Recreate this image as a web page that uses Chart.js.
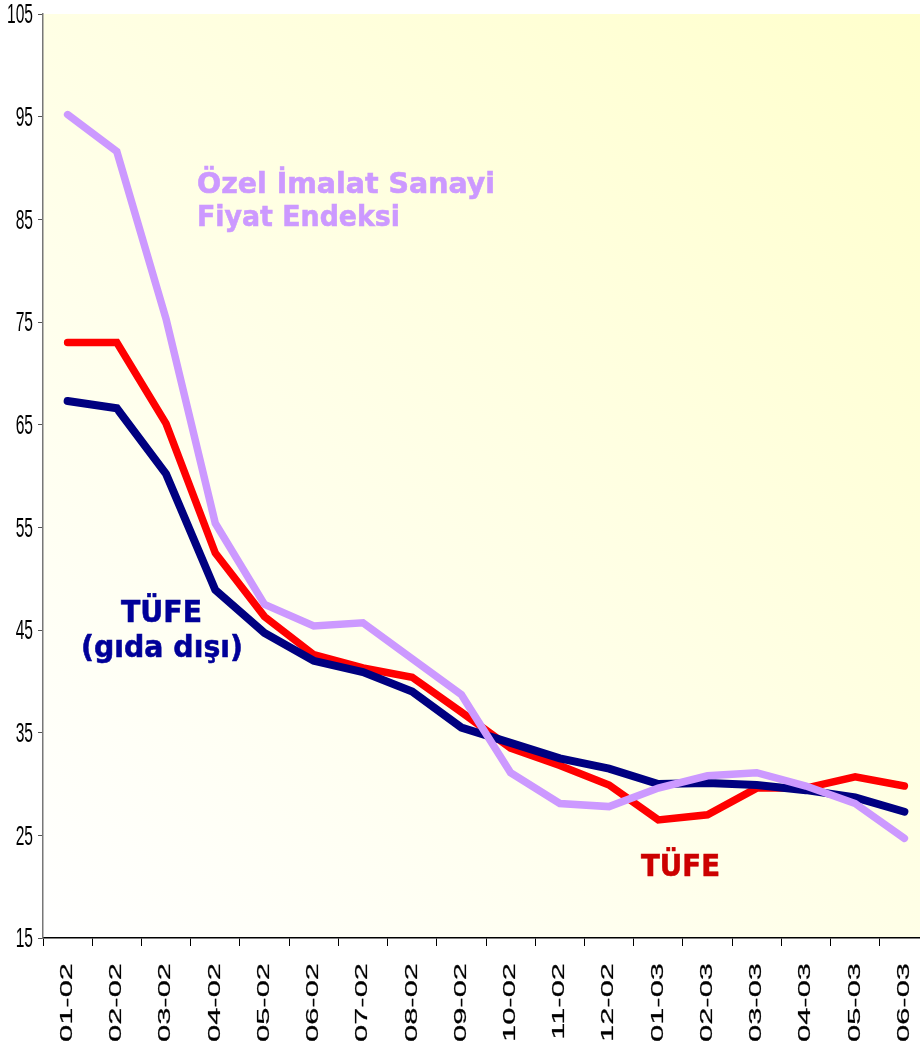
<!DOCTYPE html>
<html>
<head>
<meta charset="utf-8">
<script src="https://cdn.jsdelivr.net/npm/chart.js@4.4.1/dist/chart.umd.min.js"></script>
<style>
html,body{margin:0;padding:0;background:#fff;overflow:hidden;}
#wrap{width:930px;height:1048px;position:relative;}
</style>
</head>
<body>
<div id="wrap"><canvas id="c"></canvas></div>
<script>
// ---- data ----
const categories = ['01-02','02-02','03-02','04-02','05-02','06-02','07-02','08-02','09-02','10-02','11-02','12-02','01-03','02-03','03-03','04-03','05-03','06-03'];
const ozelImalat   = [95.2, 91.6, 75.3, 55.4, 47.5, 45.4, 45.7, 42.2, 38.7, 31.1, 28.1, 27.8, 29.6, 30.8, 31.1, 29.8, 28.1, 24.7];
const tufeGidaDisi = [67.3, 66.6, 60.2, 48.9, 44.7, 42.0, 40.9, 39.0, 35.5, 34.0, 32.5, 31.5, 30.0, 30.1, 29.9, 29.4, 28.7, 27.3];
const tufe         = [73.0, 73.0, 65.1, 52.5, 46.3, 42.6, 41.3, 40.4, 37.0, 33.5, 31.8, 29.9, 26.5, 27.0, 29.6, 29.6, 30.7, 29.8];
const yTicks = [15, 25, 35, 45, 55, 65, 75, 85, 95, 105];
const seriesNames = ['Özel İmalat Sanayi Fiyat Endeksi', 'TÜFE (gıda dışı)', 'TÜFE'];

// ---- stretched tick-label scales ----
const BaseCat = Chart.CategoryScale || Chart.registry.getScale('category');
const BaseLin = Chart.LinearScale || Chart.registry.getScale('linear');

class StretchCategory extends BaseCat {
  drawLabels() {
    const ctx = this.ctx;
    const o = this.options.ticks;
    const font = Chart.helpers.toFont(o.font);
    ctx.save();
    ctx.font = font.string;
    ctx.fillStyle = '#000';
    ctx.strokeStyle = '#000';
    ctx.lineWidth = 0.2;
    ctx.textAlign = 'right';
    ctx.textBaseline = 'middle';
    const y0 = this.top + 25;
    this.ticks.forEach((t, i) => {
      const x = this.getPixelForTick(i);
      ctx.save();
      ctx.translate(x, y0);
      ctx.rotate(-Math.PI / 2);
      ctx.scale(1.93, 1);
      ctx.fillText(String(t.label), 0, 0);
      ctx.strokeText(String(t.label), 0, 0);
      ctx.restore();
    });
    ctx.restore();
  }
}
StretchCategory.id = 'stretchCategory';
StretchCategory.defaults = {};

class StretchLinear extends BaseLin {
  drawLabels() {
    const ctx = this.ctx;
    const o = this.options.ticks;
    const font = Chart.helpers.toFont(o.font);
    ctx.save();
    ctx.font = font.string;
    ctx.fillStyle = '#000';
    ctx.textAlign = 'right';
    ctx.textBaseline = 'middle';
    const x0 = this.right - 10;
    this.ticks.forEach((t, i) => {
      const y = this.getPixelForTick(i) + 1.5;
      ctx.save();
      ctx.translate(x0, y);
      ctx.scale(0.78, 1.42);
      ctx.fillText(String(t.label), 0, 0);
      ctx.restore();
    });
    ctx.restore();
  }
}
StretchLinear.id = 'stretchLinear';
StretchLinear.defaults = {};

Chart.register(StretchCategory, StretchLinear);

// ---- plugins ----
const bgPlugin = {
  id: 'bgPlugin',
  beforeDraw(chart) {
    const {ctx, chartArea: a} = chart;
    const g = ctx.createLinearGradient(a.left, a.bottom, a.right, a.top);
    g.addColorStop(0, '#FFFFFF');
    g.addColorStop(1, '#FFFFCC');
    ctx.save();
    ctx.fillStyle = g;
    ctx.fillRect(a.left, a.top, a.right - a.left, a.bottom - a.top);
    ctx.restore();
  }
};

const labelPlugin = {
  id: 'labelPlugin',
  afterDraw(chart) {
    const ctx = chart.ctx;
    const items = [
      {text: 'Özel İmalat Sanayi', color: '#CC99FF', size: 29, x: 197, y: 193, w: 298, align: 'left'},
      {text: 'Fiyat Endeksi',      color: '#CC99FF', size: 29, x: 197, y: 226, w: 203, align: 'left'},
      {text: 'TÜFE',               color: '#000099', size: 31, x: 161.5, y: 622, w: 81, align: 'center'},
      {text: '(gıda dışı)',        color: '#000099', size: 31, x: 162, y: 657, w: 162, align: 'center'},
      {text: 'TÜFE',               color: '#CC0000', size: 31, x: 680.5, y: 876, w: 79, align: 'center'}
    ];
    ctx.save();
    items.forEach(it => {
      ctx.font = 'bold ' + it.size + 'px "DejaVu Sans", Verdana, sans-serif';
      ctx.fillStyle = it.color;
      ctx.strokeStyle = it.color;
      ctx.lineWidth = 0.6;
      ctx.textAlign = it.align;
      ctx.textBaseline = 'alphabetic';
      const m = ctx.measureText(it.text).width;
      ctx.save();
      ctx.translate(it.x, it.y);
      ctx.scale(it.w / m, 1);
      ctx.fillText(it.text, 0, 0);
      ctx.strokeText(it.text, 0, 0);
      ctx.restore();
    });
    ctx.restore();
  }
};

new Chart(document.getElementById('c'), {
  type: 'line',
  data: {
    labels: categories,
    datasets: [
      {label: seriesNames[0], data: ozelImalat, borderColor: '#CC99FF', borderWidth: 7.5},
      {label: seriesNames[1], data: tufeGidaDisi, borderColor: '#000080', borderWidth: 8},
      {label: seriesNames[2], data: tufe, borderColor: '#FF0000', borderWidth: 7.5}
    ].map(d => Object.assign(d, {pointRadius: 0, pointHoverRadius: 0, tension: 0, fill: false, borderCapStyle: 'round', borderJoinStyle: 'miter'}))
  },
  options: {
    responsive: true,
    maintainAspectRatio: false,
    animation: false,
    events: [],
    layout: {padding: {top: 14, right: 1, left: 0, bottom: 0}},
    plugins: {legend: {display: false}, tooltip: {enabled: false}},
    scales: {
      x: {
        type: 'stretchCategory',
        offset: true,
        grid: {drawOnChartArea: false, offset: true, color: '#000', tickLength: 8, tickWidth: 1},
        border: {display: true, color: '#000', width: 1.5},
        ticks: {minRotation: 90, maxRotation: 90, autoSkip: false, padding: 0, font: {family: '"Liberation Sans", Arial, sans-serif', size: 16}},
        afterFit(s) { s.height = 110; s.paddingLeft = 0; s.paddingRight = 0; }
      },
      y: {
        type: 'stretchLinear',
        min: 15, max: 105,
        afterBuildTicks(s) { s.ticks = yTicks.map(v => ({value: v})); },
        grid: {drawOnChartArea: false, color: '#555', tickLength: 5, tickWidth: 1},
        border: {display: true, color: '#777', width: 1.5},
        ticks: {padding: 0, font: {family: '"Liberation Sans", Arial, sans-serif', size: 20}},
        afterFit(s) { s.width = 43; s.paddingTop = 0; s.paddingBottom = 0; }
      }
    }
  },
  plugins: [bgPlugin, labelPlugin]
});
</script>
</body>
</html>
